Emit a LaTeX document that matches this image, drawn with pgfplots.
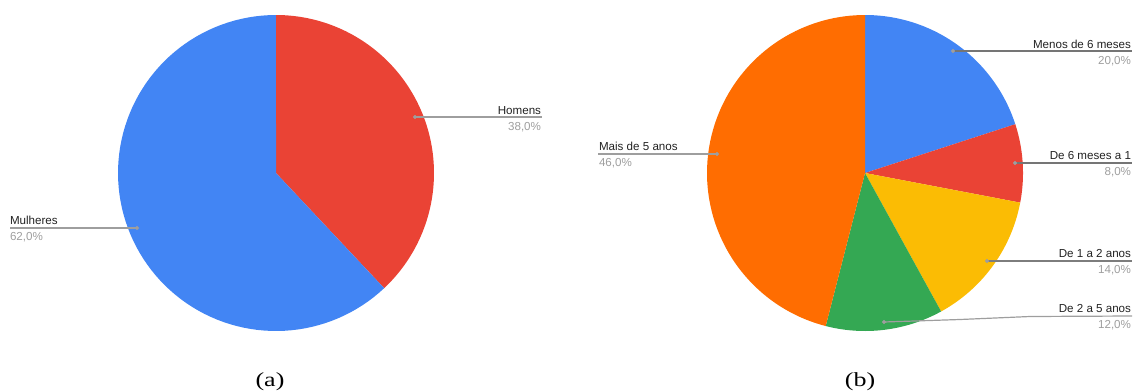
\documentclass[border=0pt]{standalone}
\usepackage{pgfplots}
\pgfplotsset{compat=1.18}
\usepackage{fontspec}
\setmainfont{Liberation Sans}
\newfontfamily\capfont{Liberation Serif}
\definecolor{gblue}{HTML}{4285F4}
\definecolor{gred}{HTML}{EA4335}
\definecolor{gyellow}{HTML}{FBBC04}
\definecolor{ggreen}{HTML}{34A853}
\definecolor{gorange}{HTML}{FF6D01}
\definecolor{lead}{HTML}{9E9E9E}
\definecolor{leaddark}{HTML}{757575}
\definecolor{pctgray}{HTML}{9E9E9E}
\definecolor{txt}{HTML}{222222}
% Slice shares (percent)
% (a) Homens 38, Mulheres 62
% (b) Menos de 6 meses 20, De 6 meses a 1 8, De 1 a 2 anos 14, De 2 a 5 anos 12, Mais de 5 anos 46
\newcommand{\slice}[6]{% cx, cy, r, start pct, end pct, colour
  \addplot[fill=#6, draw=none, samples=90, domain={90-3.6*(#4)}:{90-3.6*(#5)}, variable=\t]
    ({#1+#3*cos(\t)},{#2-#3*sin(\t)}) -- (axis cs:#1,#2) -- cycle;
}
\tikzset{lab/.style={font=\fontsize{8.7}{10}\selectfont, inner sep=0pt, outer sep=0pt}}
\begin{document}
\begin{tikzpicture}
\begin{axis}[
  scale only axis, width=850.5pt, height=292.5pt,
  xmin=0, xmax=1134, ymin=0, ymax=390, y dir=reverse,
  hide axis, clip=false,
]
\path (axis cs:0,0) rectangle (axis cs:1134,390);
% ---------- (a) ----------
\slice{276}{173}{158}{0}{38}{gred}
\slice{276}{173}{158}{38}{100}{gblue}
% ---------- (b) ----------
\slice{865}{173}{158}{0}{20}{gblue}
\slice{865}{173}{158}{20}{28}{gred}
\slice{865}{173}{158}{28}{42}{gyellow}
\slice{865}{173}{158}{42}{54}{ggreen}
\slice{865}{173}{158}{54}{100}{gorange}
% ---------- leader lines ----------
\addplot[lead, line width=0.9pt] coordinates {(415,117) (542,117)};
\addplot[lead, line width=0.9pt] coordinates {(137,228) (10,228)};
\addplot[lead, line width=0.9pt] coordinates {(717,154) (598,154)};
\addplot[leaddark, line width=0.9pt] coordinates {(953,51) (1132,51)};
\addplot[leaddark, line width=0.9pt] coordinates {(1015,163) (1132,163)};
\addplot[leaddark!80!lead, line width=0.9pt] coordinates {(987,261) (1132,261)};
\addplot[lead, line width=0.9pt] coordinates {(884,322) (960,319.5) (1030,316.5) (1132,316)};
\addplot[only marks, mark=*, mark size=1.3pt, color=lead] coordinates {
  (415,117) (137,228) (717,154) (953,51) (1015,163) (987,261) (884,322)};
% ---------- labels ----------
\node[lab, anchor=base east, text=txt] at (axis cs:541,114) {Homens};
\node[lab, anchor=base east, text=pctgray] at (axis cs:541,130) {38,0\%};
\node[lab, anchor=base west, text=txt] at (axis cs:10,224) {Mulheres};
\node[lab, anchor=base west, text=pctgray] at (axis cs:10,240) {62,0\%};
\node[lab, anchor=base west, text=txt] at (axis cs:599,150) {Mais de 5 anos};
\node[lab, anchor=base west, text=pctgray] at (axis cs:599,166) {46,0\%};
\node[lab, anchor=base east, text=txt] at (axis cs:1131,48) {Menos de 6 meses};
\node[lab, anchor=base east, text=pctgray] at (axis cs:1131,64) {20,0\%};
\node[lab, anchor=base east, text=txt] at (axis cs:1131,159) {De 6 meses a 1};
\node[lab, anchor=base east, text=pctgray] at (axis cs:1131,175) {8,0\%};
\node[lab, anchor=base east, text=txt] at (axis cs:1131,257) {De 1 a 2 anos};
\node[lab, anchor=base east, text=pctgray] at (axis cs:1131,273) {14,0\%};
\node[lab, anchor=base east, text=txt] at (axis cs:1131,312) {De 2 a 5 anos};
\node[lab, anchor=base east, text=pctgray] at (axis cs:1131,328) {12,0\%};
% ---------- captions ----------
\node[anchor=base, inner sep=0pt, font=\capfont\fontsize{15}{16}\selectfont] at (axis cs:270,386) {\scalebox{1.3}[1]{(a)}};
\node[anchor=base, inner sep=0pt, font=\capfont\fontsize{15}{16}\selectfont] at (axis cs:860,386) {\scalebox{1.3}[1]{(b)}};
\end{axis}
\end{tikzpicture}
\end{document}
